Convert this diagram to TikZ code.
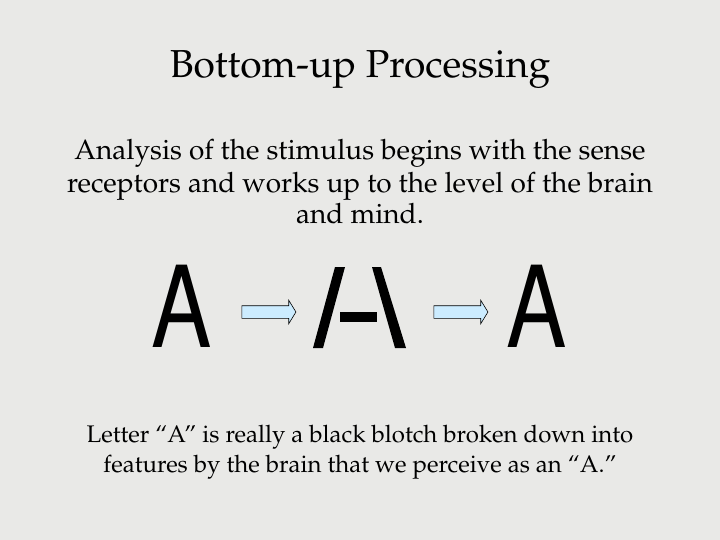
\documentclass[tikz,border=0pt]{standalone}
\usepackage[T1]{fontenc}
\renewcommand{\rmdefault}{ppl}
\usepackage{xcolor}
\definecolor{slidegray}{RGB}{233,233,231}
\definecolor{arrowblue}{RGB}{204,236,255}
\usepackage{tikz}
\usetikzlibrary{calc,positioning,shapes.arrows}

\begin{document}
\begin{tikzpicture}[x=1pt,y=-1pt,
    bigletter/.style={inner sep=0pt,font=\fontfamily{phv}\fontsize{113}{113}\selectfont},
    featarrow/.style={single arrow,draw=black,fill=arrowblue,line width=0.6pt,
        minimum height=54pt,inner xsep=0pt,inner ysep=6pt,
        single arrow head extend=5.5pt,single arrow tip angle=117}]
        % Parameters
        \def\midy{307.5}
        % Background
        \fill[slidegray] (0,0) rectangle (720,540);
        \useasboundingbox (0,0) rectangle (720,540);
        % Title
        \node[anchor=base,font=\fontsize{39}{42}\selectfont] (title) at (360,77.7) {Bottom-up Processing};
        % Text
        \node[anchor=base,align=center,font=\fontsize{28}{32}\selectfont] (intro) at (360,224)
            {Analysis of the stimulus begins with the sense\\
             receptors and works up to the level of the brain\\
             and mind.};
        % Letters
        \node[bigletter] (Aleft) at (182,\midy) {\scalebox{0.8}[1]{A}};
        \node[bigletter] (Aright) at (537,\midy) {\scalebox{0.8}[1]{A}};
        % Features
        \fill (313,348) -- (323,348) -- (345,267) -- (335,267) -- cycle;
        \fill (372,267) -- (381,267) -- (406,348) -- (395,348) -- cycle;
        \fill (340,312) rectangle (377,322);
        % Arrows
        \node[featarrow] (arrA) at (267,312) {};
        \node[featarrow] (arrB) at (459,312) {};
        % Caption
        \node[anchor=base,align=center,font=\fontsize{24}{30}\selectfont] (caption) at (360,472)
            {Letter ``A'' is really a black blotch broken down into\\
             features by the brain that we perceive as an ``A.''};
    \end{tikzpicture}
\end{document}
